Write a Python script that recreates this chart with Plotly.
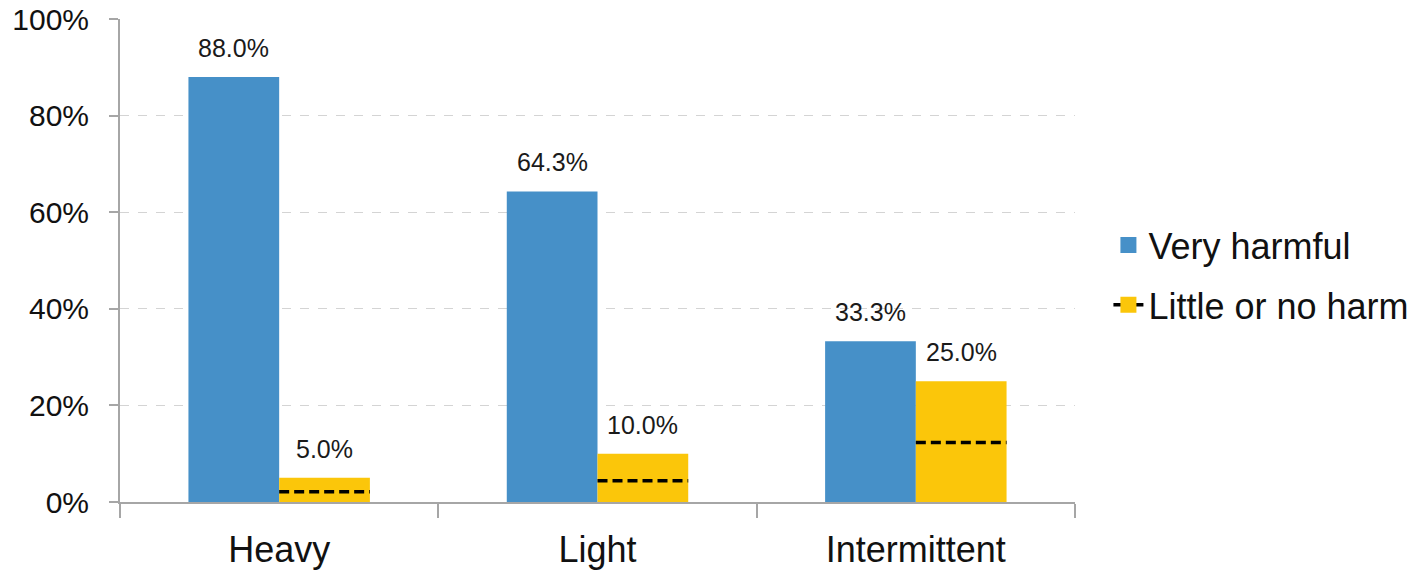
import plotly.graph_objects as go

# Perceived harm by smoking pattern (percent of respondents)
categories = ["Heavy", "Light", "Intermittent"]
very_harmful = [88.0, 64.3, 33.3]
little_or_no_harm = [5.0, 10.0, 25.0]
# Reference level drawn as a dashed line across each "Little or no harm" bar
little_harm_marker = [2.1, 4.4, 12.3]
y_ticks = [0, 20, 40, 60, 80, 100]
y_tick_labels = [f"{v}%" for v in y_ticks]

BLUE = "#4690c8"
YELLOW = "#fbc60a"
GRID = "#d4d4d4"
AXIS = "#a6a6a6"
FONT = "Liberation Sans, Arial, sans-serif"

BARGAP = 0.43
x_pos = list(range(len(categories)))
bar_w = (1 - BARGAP) / 2

fig = go.Figure()

fig.add_trace(go.Bar(
    x=x_pos, y=very_harmful, name="Very harmful",
    marker=dict(color=BLUE, line=dict(width=0)),
    showlegend=False,
))
fig.add_trace(go.Bar(
    x=x_pos, y=little_or_no_harm, name="Little or no harm",
    marker=dict(color=YELLOW, line=dict(width=0)),
    showlegend=False,
))

# value labels above each bar
for offset, series in ((-bar_w / 2, very_harmful), (bar_w / 2, little_or_no_harm)):
    for xi, v in zip(x_pos, series):
        fig.add_annotation(
            x=xi + offset, y=v, text=f"{v:.1f}%", showarrow=False,
            xanchor="center", yanchor="bottom", yshift=13,
            font=dict(size=25, color="#1a1a1a", family=FONT),
        )

# dashed level lines spanning the right-hand bar of each group
dx, dy = [], []
for xi, v in zip(x_pos, little_harm_marker):
    dx += [xi, xi + bar_w, None]
    dy += [v, v, None]
fig.add_trace(go.Scatter(
    x=dx, y=dy, mode="lines", showlegend=False, hoverinfo="skip",
    line=dict(color="black", width=3.5, dash="10px,5px"),
))

# legend entries
fig.add_trace(go.Scatter(
    x=[None], y=[None], mode="markers", name="Very harmful",
    legendgroup="a",
    marker=dict(symbol="square", size=16, color=BLUE),
))
fig.add_trace(go.Scatter(
    x=[None], y=[None], mode="lines+markers", name="Little or no harm",
    legendgroup="b",
    marker=dict(symbol="square", size=16, color=YELLOW),
    line=dict(color="black", width=3.5, dash="8px,3px"),
))

fig.update_layout(
    width=1418, height=570,
    margin=dict(l=120, r=343, t=19, b=68, autoexpand=False),
    paper_bgcolor="white", plot_bgcolor="white",
    barmode="group", bargap=BARGAP, bargroupgap=0,
    font=dict(family=FONT, color="#111111"),
    legend=dict(
        x=1.035, xanchor="left", y=0.47, yanchor="middle",
        font=dict(size=36, family=FONT, color="#111111"),
        traceorder="grouped", tracegroupgap=10,
        bgcolor="rgba(0,0,0,0)",
    ),
    xaxis=dict(
        range=[-0.5, 2.5], tickmode="array", tickvals=x_pos, ticktext=categories,
        ticks="outside", ticklen=15, tickcolor="rgba(0,0,0,0)",
        tickfont=dict(size=36, family=FONT, color="#111111"),
        showgrid=False, zeroline=False, automargin=False,
        showline=True, linecolor=AXIS, linewidth=2,
        minor=dict(tickvals=[-0.5, 0.5, 1.5, 2.5], ticks="outside",
                   ticklen=14, tickcolor=AXIS, tickwidth=2, showgrid=False),
    ),
    yaxis=dict(
        range=[0, 100], tickmode="array", tickvals=y_ticks, ticktext=y_tick_labels,
        ticks="outside", ticklen=9, tickcolor=AXIS, tickwidth=2,
        ticklabelstandoff=14, automargin=False,
        tickfont=dict(size=30, family=FONT, color="#111111"),
        showgrid=True, gridcolor=GRID, griddash="dash", gridwidth=1,
        zeroline=False, showline=True, linecolor=AXIS, linewidth=2,
    ),
)

fig.write_html("out.html")
